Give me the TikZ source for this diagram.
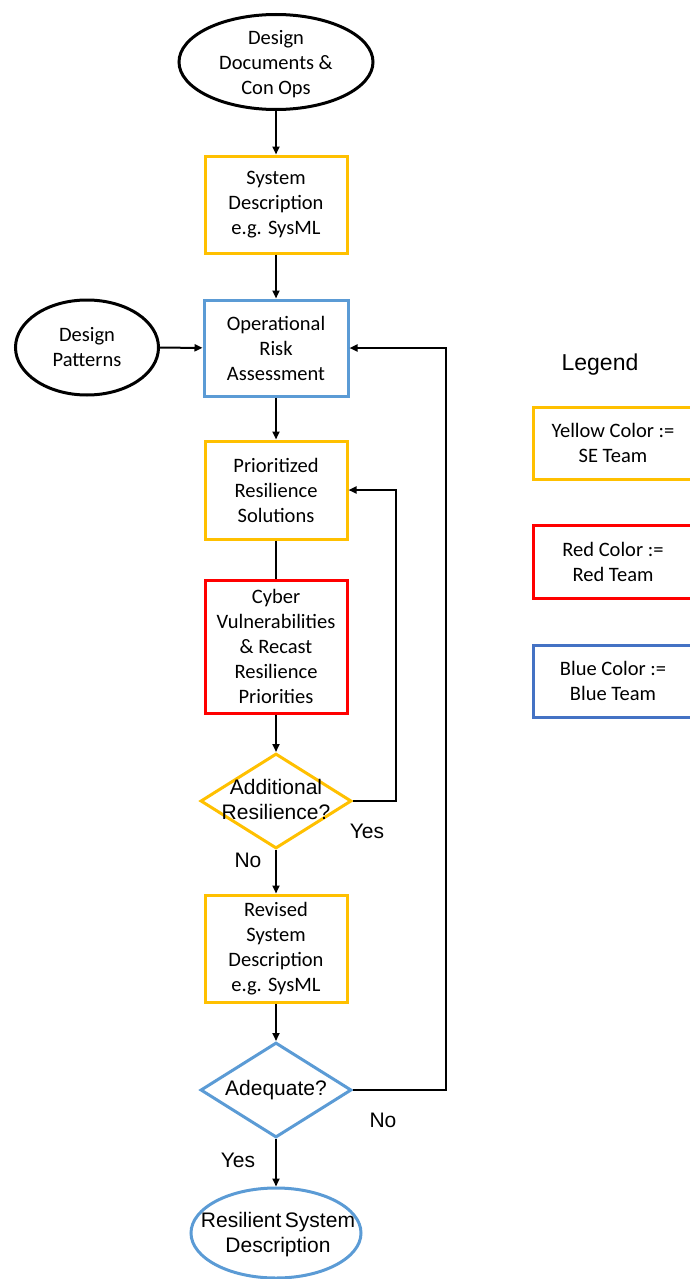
\documentclass[tikz,border=0pt]{standalone}
\usepackage{fontspec}
\setmainfont{Carlito}
\newfontfamily\arial{Liberation Sans}
\usetikzlibrary{shapes.geometric,arrows.meta}
\definecolor{cyel}{HTML}{FFC000}
\definecolor{cred}{HTML}{FF0000}
\definecolor{cblue}{HTML}{5B9BD5}
\definecolor{cblued}{HTML}{4472C4}
\begin{document}
\begin{tikzpicture}[x=1pt,y=-1pt,
  txt/.style={font=\fontsize{20.5}{25}\selectfont, align=center},
  atxt/.style={font=\arial\fontsize{21}{25}\selectfont, align=center},
  box/.style={draw, line width=3pt, rectangle, minimum width=142pt, inner sep=0pt, txt},
  oval/.style={draw, line width=3pt, ellipse, inner sep=0pt, txt},
  dia/.style={draw, line width=3pt, diamond, minimum width=151pt, minimum height=95pt, inner sep=0pt},
  conn/.style={line width=2pt, -{Triangle[length=8pt,width=7pt]}},
  plain/.style={line width=2pt}
]
\useasboundingbox (0,0) rectangle (689,1279);

\node[oval, minimum width=194pt, minimum height=95pt] (top) at (276,62) {};
\node[txt] (topt) at (276,64) {Design\\Documents \&\\Con Ops};
\node[box, draw=cyel, minimum height=97pt] (sys) at (276,204.5) {System\\Description\\e.g. SysML};
\node[box, draw=cblue, minimum width=144pt, minimum height=96pt] (ora) at (276,348) {Operational\\Risk\\Assessment};
\node[oval, minimum width=143pt, minimum height=95pt] (dp) at (87,347.5) {Design\\Patterns};
\node[box, draw=cyel, minimum height=98pt] (prio) at (276,490) {Prioritized\\Resilience\\Solutions};
\node[box, draw=cred, minimum height=133pt] (cyb) at (276,646.5) {Cyber\\Vulnerabilities\\\& Recast\\Resilience\\Priorities};
\node[dia, draw=cyel] (d1) at (276,801) {};
\node[atxt] (d1t) at (276,799) {Additional\\Resilience?};
\node[box, draw=cyel, minimum height=107pt] (rev) at (276,948.5) {Revised\\System\\Description\\e.g. SysML};
\node[dia, draw=cblue] (d2) at (276,1090) {};
\node[atxt] (d2t) at (276,1090) {Adequate?};
\node[oval, draw=cblue, minimum width=170pt, minimum height=90pt] (res) at (276,1233) {};
\node[atxt] (rest) at (278,1235) {Resilient\,System\\Description};

\node[atxt] (yes1) at (367,831) {Yes};
\node[atxt] (no1) at (248,860) {No};
\node[atxt] (no2) at (383,1120) {No};
\node[atxt] (yes2) at (238,1160) {Yes};

\draw[conn] (top) -- (sys);
\draw[conn] (sys) -- (ora);
\draw[conn] (dp) -- (ora);
\draw[conn] (ora) -- (prio);
\draw[plain] (prio) -- (cyb);
\draw[conn] (cyb) -- (d1.north);
\draw[conn] (d1.south) -- (rev);
\draw[conn] (rev) -- (d2.north);
\draw[conn] (d2.south) -- (res);
\coordinate (c1) at (396,801);
\coordinate (c2) at (446,1090);
\draw[conn] (d1.east) -- (c1) |- (prio.east);
\draw[conn] (d2.east) -- (c2) |- (ora.east);

\node[font=\arial\fontsize{23}{27}\selectfont] (leg) at (600,365) {Legend};
\node[box, draw=cyel, minimum width=160pt, minimum height=72pt] (ly) at (613,443) {Yellow Color :=\\SE Team};
\node[box, draw=cred, minimum width=160pt, minimum height=73pt] (lr) at (613,561.5) {Red Color :=\\Red Team};
\node[box, draw=cblued, minimum width=160pt, minimum height=72pt] (lb) at (613,681) {Blue Color :=\\Blue Team};
\end{tikzpicture}
\end{document}
